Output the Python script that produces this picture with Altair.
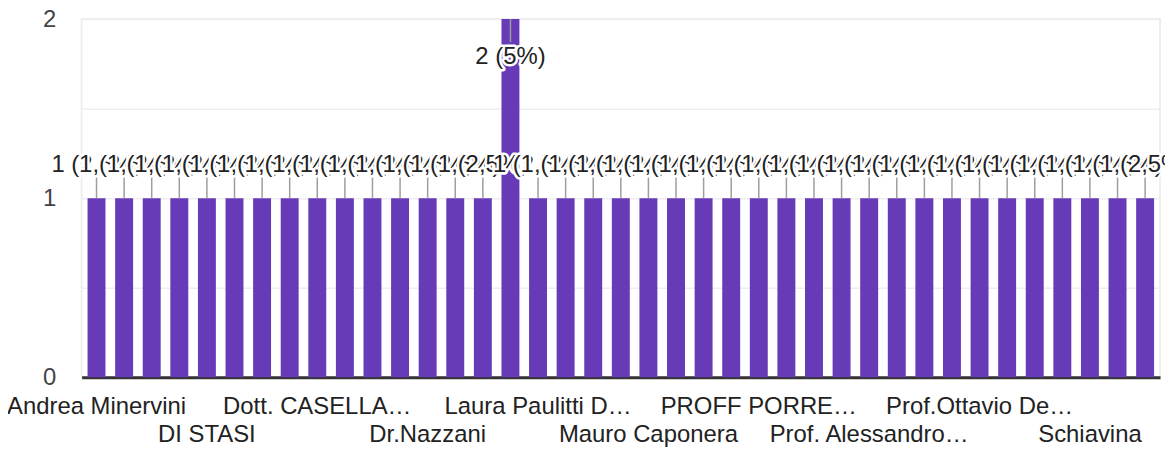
import json
import altair as alt
import pandas as pd

FONT = "Liberation Sans"

# category names (only every 4th is legible in the reference)
names = [
    "Andrea Minervini", "", "", "",
    "DI STASI", "", "", "",
    "Dott. CASELLA…", "", "", "",
    "Dr.Nazzani", "", "", "",
    "Laura Paulitti D…", "", "", "",
    "Mauro Caponera", "", "", "",
    "PROFF PORRE…", "", "", "",
    "Prof. Alessandro…", "", "", "",
    "Prof.Ottavio De…", "", "", "",
    "Schiavina", "", "",
]
counts = [
    1, 1, 1, 1, 1, 1, 1, 1, 1, 1,
    1, 1, 1, 1, 1, 2, 1, 1, 1, 1,
    1, 1, 1, 1, 1, 1, 1, 1, 1, 1,
    1, 1, 1, 1, 1, 1, 1, 1, 1,
]
y_ticks = [0, 0.5, 1, 1.5, 2]

total = sum(counts)
labels = []
for c in counts:
    pct = c / total * 100
    labels.append(f"{c} ({pct:g}%)".replace(".", ","))

df = pd.DataFrame({
    "pos": list(range(len(names))),
    "name": names,
    "count": counts,
    "label": labels,
})
maxc = max(counts)

arr = json.dumps(names, ensure_ascii=False)
x_label_expr = (
    f"(datum.value % 8 == 4) ? ['', {arr}[datum.value]] : {arr}[datum.value]"
)

x_enc = alt.X(
    "pos:O",
    scale=alt.Scale(paddingInner=0.35, paddingOuter=0.215),
    axis=alt.Axis(
        title=None, labelAngle=0, ticks=False, grid=False,
        domainColor="#333333", domainWidth=3,
        labelFontSize=24, labelFont=FONT, labelColor="#222222",
        labelPadding=17, labelLineHeight=29, labelOverlap=False,
        labelBaseline="top", labelLimit=600, labelExpr=x_label_expr,
    ),
)
y_scale = alt.Scale(domain=[0, 2], nice=False)
y_enc = alt.Y(
    "count:Q",
    scale=y_scale,
    axis=alt.Axis(
        title=None, values=y_ticks, domain=False, ticks=False,
        gridColor="#eeeeee", gridWidth=1.5,
        labelFontSize=24, labelFont=FONT, labelColor="#444444",
        labelPadding=26,
        labelExpr="datum.value % 1 == 0 ? '' + datum.value : ''",
    ),
)

base = alt.Chart(df)

bars = base.mark_bar(color="#673ab7").encode(x=x_enc, y=y_enc)

stems = base.transform_calculate(
    stem_end=f"datum.count == {maxc} ? datum.count - 0.128 : datum.count + 0.117"
).mark_rule(color="#9e9e9e", strokeWidth=1.5).encode(
    x=alt.X("pos:O"),
    y=alt.Y("count:Q", scale=y_scale),
    y2="stem_end:Q",
)

layers = [bars, stems]
for i, c in enumerate(counts):
    dy = 45 if c == maxc else -26
    sub = base.transform_filter(f"datum.pos == {i}")
    halo = sub.mark_text(
        font=FONT, fontSize=24, baseline="alphabetic", align="center",
        dy=dy, stroke="white", strokeWidth=5, fill="white",
        strokeJoin="round",
    ).encode(x="pos:O", y=alt.Y("count:Q", scale=y_scale), text="label:N")
    txt = sub.mark_text(
        font=FONT, fontSize=24, baseline="alphabetic", align="center",
        dy=dy, color="#222222",
    ).encode(x="pos:O", y=alt.Y("count:Q", scale=y_scale), text="label:N")
    layers += [halo, txt]

chart = alt.layer(*layers).properties(
    width=1084,
    height=360,
    autosize=alt.AutoSizeParams(type="none"),
    padding={"left": 74, "top": 10, "right": 5, "bottom": 75},
).configure_view(stroke="#eeeeee", strokeWidth=2)

chart.save("out.html", embed_options={"renderer": "svg", "actions": False})
